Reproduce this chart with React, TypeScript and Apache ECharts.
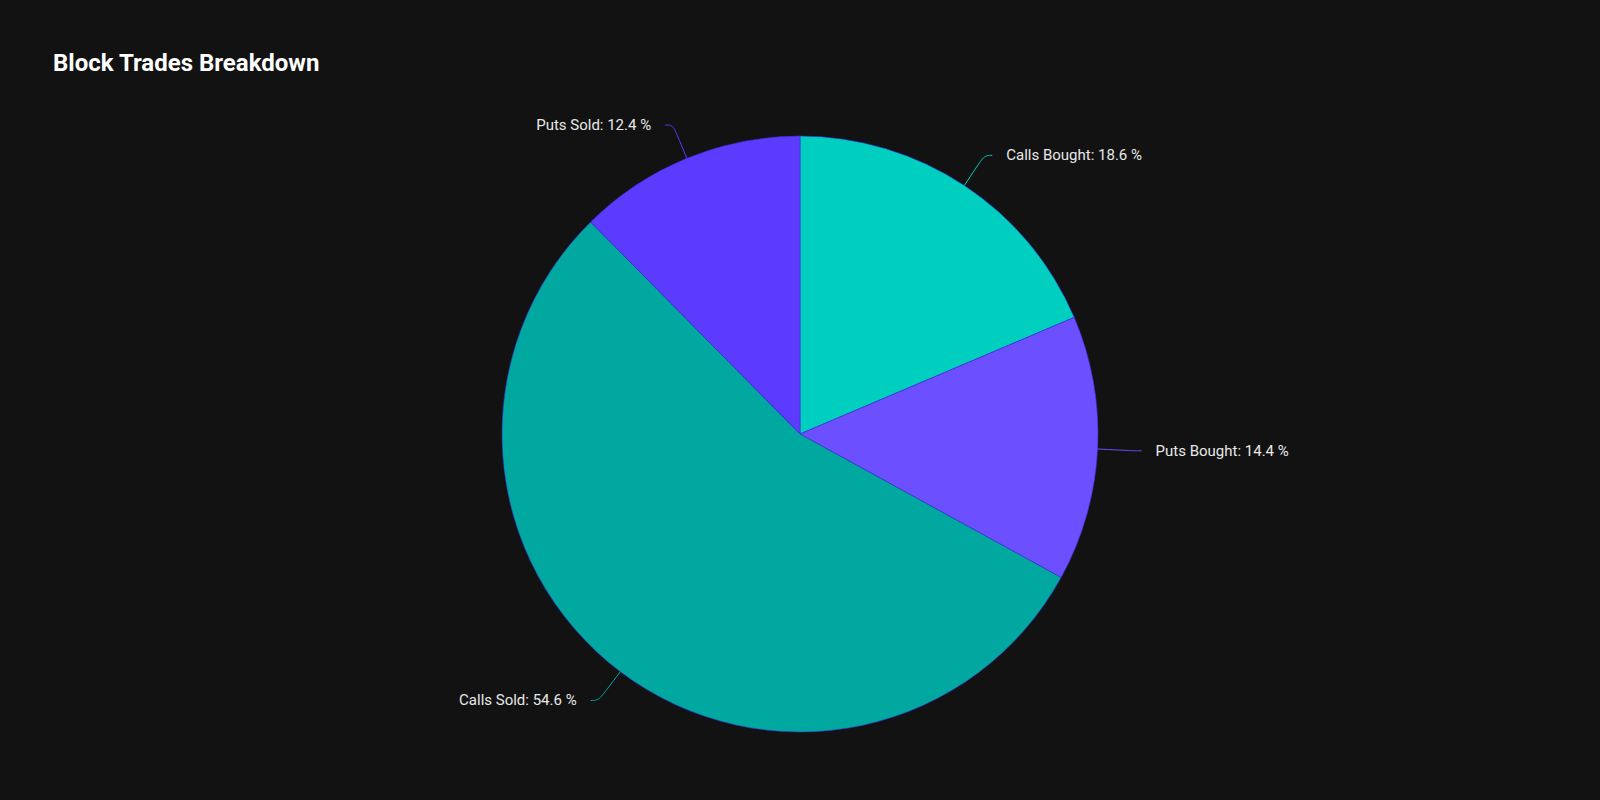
import React, { useEffect, useRef } from "react";
import * as echarts from "echarts";

// slice names and shares (%), clockwise from 12 o'clock
const categories = ["Calls Bought", "Puts Bought", "Calls Sold", "Puts Sold"];
const shares = [18.6, 14.4, 54.6, 12.4];
const sliceColors = ["#00cfc0", "#6c4fff", "#00a8a0", "#5c3bff"];

const App: React.FC = () => {
  const chartRef = useRef<HTMLDivElement>(null);

  useEffect(() => {
    document.body.style.margin = "0";
    document.body.style.background = "#121212";
    const chart = echarts.init(chartRef.current!, undefined, { renderer: "svg" });

    const option: any = {
      animation: false,
      backgroundColor: "#121212",
      title: {
        text: "Block Trades Breakdown",
        left: 48,
        top: 46,
        textStyle: {
          color: "#ffffff",
          fontFamily: "Roboto",
          fontWeight: "bold",
          fontSize: 24,
        },
      },
      series: [
        {
          type: "pie",
          center: [800, 434],
          radius: 298,
          startAngle: 90,
          clockwise: true,
          avoidLabelOverlap: false,
          itemStyle: {
            borderColor: "#3b2fd6",
            borderWidth: 0.6,
          },
          label: {
            show: true,
            color: "#e8e8e8",
            fontFamily: "Roboto",
            fontSize: 15,
            formatter: (p: any) => `${p.name}: ${p.value} %`,
            distanceToLabelLine: 14,
          },
          labelLine: {
            show: true,
            length: 36,
            length2: 8,
            smooth: 0.4,
            lineStyle: { width: 1 },
          },
          data: categories.map((name, i) => ({
            name,
            value: shares[i],
            itemStyle: { color: sliceColors[i] },
          })),
        },
      ],
    };

    chart.setOption(option);
    return () => {
      chart.dispose();
    };
  }, []);

  return <div ref={chartRef} style={{ width: "1600px", height: "800px" }}></div>;
};

export default App;
